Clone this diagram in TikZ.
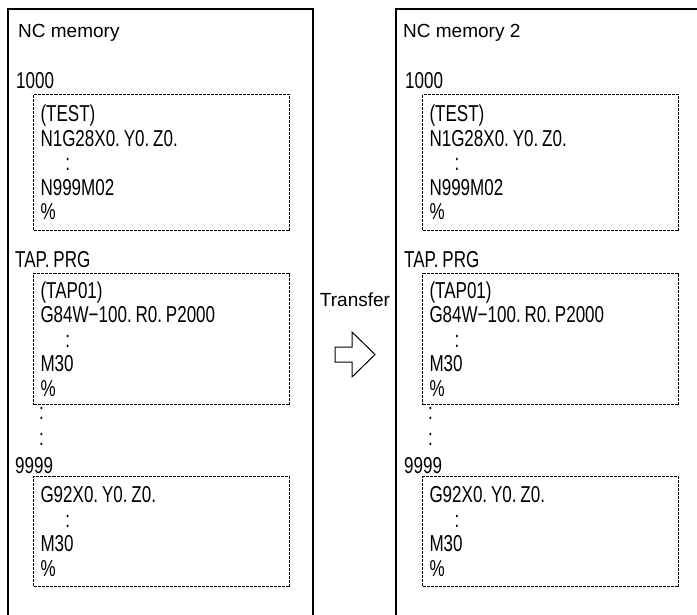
\documentclass[tikz,border=0pt]{standalone}
\usepackage{fontspec}
\setmainfont{Liberation Sans}
\newfontfamily\codefont[FakeStretch=0.74]{Liberation Sans}
\usetikzlibrary{positioning}

\tikzset{
    frame/.style={line width=1.2pt},
    prog/.style={draw, dash pattern=on 3pt off 1pt, line width=1pt, anchor=north west,
        text width=242pt, inner xsep=7pt, inner ysep=0pt, align=left,
        font=\codefont\fontsize{23}{24.5}\selectfont},
    code/.style={anchor=west, inner sep=0pt, font=\codefont\fontsize{23}{24.5}\selectfont},
    title/.style={anchor=west, inner sep=0pt, font=\fontsize{19}{22}\selectfont}
}

\begin{document}
\begin{tikzpicture}[x=1pt, y=-1pt]
    \useasboundingbox (0,0) rectangle (697,614);
    \clip (0,0) rectangle (697,614);

    % source memory
    \draw[frame] (8,620) -- (8,9) -- (313,9) -- (313,620);
    \node[title] (ttlA)  at (18,33)  {NC memory};
    \node[code]  (numA)  at (16,81)  {1000};
    \node[prog, minimum height=136pt] (boxA1) at (33,94)
        {(TEST)\\N1G28X0.\,Y0.\,Z0.\\\hspace*{25pt}:\\N999M02\\\%};
    \node[code]  (tapA)  at (15,260) {TAP.\,PRG};
    \node[prog, minimum height=131pt] (boxA2) at (33,273)
        {(TAP01)\\G84W−100.\,R0.\,P2000\\\hspace*{25pt}:\\M30\\\%};
    \node[code]  (dotA1) at (39,413) {:};
    \node[code]  (dotA2) at (39,439) {:};
    \node[code]  (lastA) at (15,466) {9999};
    \node[prog, minimum height=110pt] (boxA3) at (33,476)
        {G92X0.\,Y0.\,Z0.\\\hspace*{25pt}:\\M30\\\%};

    % transfer
    \node[font=\fontsize{19}{22}\selectfont, inner sep=0pt] (xfer) at (355,300) {Transfer};
    \draw[line width=1pt, line join=miter]
        (335,347) -- (352,347) -- (352,332) -- (375,354.5) -- (352,377) -- (352,362) -- (335,362) -- cycle;

    % destination memory
    \draw[frame] (396,620) -- (396,9) -- (700,9);
    \node[title] (ttlB)  at (403,33)  {NC memory 2};
    \node[code]  (numB)  at (405,81)  {1000};
    \node[prog, minimum height=136pt] (boxB1) at (422,94)
        {(TEST)\\N1G28X0.\,Y0.\,Z0.\\\hspace*{25pt}:\\N999M02\\\%};
    \node[code]  (tapB)  at (404,260) {TAP.\,PRG};
    \node[prog, minimum height=131pt] (boxB2) at (422,273)
        {(TAP01)\\G84W−100.\,R0.\,P2000\\\hspace*{25pt}:\\M30\\\%};
    \node[code]  (dotB1) at (428,413) {:};
    \node[code]  (dotB2) at (428,439) {:};
    \node[code]  (lastB) at (404,466) {9999};
    \node[prog, minimum height=110pt] (boxB3) at (422,476)
        {G92X0.\,Y0.\,Z0.\\\hspace*{25pt}:\\M30\\\%};
\end{tikzpicture}
\end{document}
